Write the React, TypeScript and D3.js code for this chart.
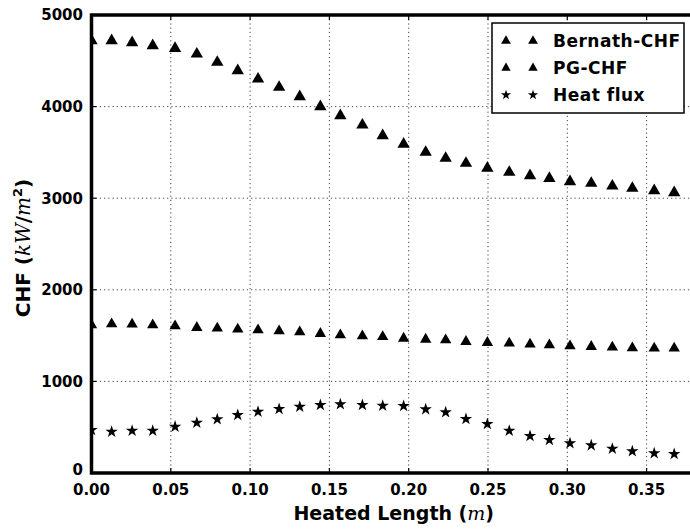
import React from "react";
import * as d3 from "d3";

const heatedLength = [0.0, 0.0127, 0.0256, 0.0386, 0.0527, 0.0664, 0.0793, 0.0922, 0.105, 0.1183, 0.1313, 0.1443, 0.1569, 0.1708, 0.1836, 0.1968, 0.2107, 0.2233, 0.2361, 0.2496, 0.2634, 0.2765, 0.2887, 0.3017, 0.3151, 0.3284, 0.3410, 0.3548, 0.3674];
const bernathCHF = [4720, 4720, 4698, 4665, 4636, 4574, 4484, 4392, 4301, 4211, 4108, 3999, 3901, 3799, 3683, 3589, 3501, 3436, 3381, 3327, 3283, 3246, 3217, 3181, 3163, 3133, 3108, 3082, 3060];
const pgCHF = [1616, 1627, 1623, 1616, 1605, 1587, 1580, 1569, 1561, 1550, 1539, 1521, 1507, 1496, 1488, 1470, 1459, 1452, 1434, 1423, 1416, 1405, 1397, 1386, 1379, 1372, 1365, 1361, 1361];
const heatFlux = [469, 451, 462, 462, 506, 549, 586, 633, 669, 699, 724, 742, 750, 742, 735, 731, 695, 663, 590, 535, 462, 404, 360, 324, 302, 265, 237, 215, 207];

const xTicks = [0.0, 0.05, 0.1, 0.15, 0.2, 0.25, 0.3, 0.35];
const yTicks = [0, 1000, 2000, 3000, 4000, 5000];
const seriesNames = ["Bernath-CHF", "PG-CHF", "Heat flux"];

const W = 690, H = 530;
const left = 91.5, top = 15, bottom = 473;
const xMax = 0.38;

export default function App() {
  const x = d3.scaleLinear().domain([0, xMax]).range([left, left + xMax * 1586]);
  const y = d3.scaleLinear().domain([0, 5000]).range([bottom, top]);
  const right = x(xMax);

  const tri = (s: number) => d3.symbol().type(d3.symbolTriangle).size(s)()!;
  const star = (s: number) => d3.symbol().type(d3.symbolStar).size(s)()!;
  const font = "'DejaVu Sans', sans-serif";
  const mathFont = "'DejaVu Serif', serif";

  const series = [
    { name: seriesNames[0], vals: bernathCHF, path: tri(66), lpath: tri(42) },
    { name: seriesNames[1], vals: pgCHF, path: tri(56), lpath: tri(38) },
    { name: seriesNames[2], vals: heatFlux, path: star(48), lpath: star(32) },
  ];

  return (
    <svg width={W} height={H} style={{ position: "absolute", left: 0, top: 0, background: "#fff" }} fontFamily={font}>
      <defs>
        <clipPath id="plotclip">
          <rect x={left} y={top} width={right - left} height={bottom - top} />
        </clipPath>
      </defs>
      <rect x={0} y={0} width={W} height={H} fill="#fff" />
      {/* grid */}
      <g stroke="#000" strokeWidth={1} strokeDasharray="1.2,3" opacity={0.75}>
        {xTicks.slice(1).map((t) => (
          <line key={"gx" + t} x1={x(t)} x2={x(t)} y1={top} y2={bottom} />
        ))}
        {yTicks.slice(1, -1).map((t) => (
          <line key={"gy" + t} x1={left} x2={right} y1={y(t)} y2={y(t)} />
        ))}
      </g>
      {/* data */}
      <g clipPath="url(#plotclip)">
        {series.map((s) =>
          s.vals.map((v, i) => (
            <path key={s.name + i} d={s.path} transform={`translate(${x(heatedLength[i])},${y(v)})`} fill="#000" />
          ))
        )}
      </g>
      {/* ticks */}
      <g stroke="#000" strokeWidth={1.2}>
        {xTicks.map((t) => (
          <g key={"tx" + t}>
            <line x1={x(t)} x2={x(t)} y1={bottom} y2={bottom - 5} />
            <line x1={x(t)} x2={x(t)} y1={top} y2={top + 5} />
          </g>
        ))}
        {yTicks.map((t) => (
          <line key={"ty" + t} x1={left} x2={left + 5} y1={y(t)} y2={y(t)} />
        ))}
      </g>
      {/* spines */}
      <rect x={left} y={top} width={right - left} height={bottom - top} fill="none" stroke="#000" strokeWidth={3.5} />
      {/* tick labels */}
      <g fontSize={15} fontWeight="bold" fill="#000">
        {xTicks.map((t) => (
          <text key={"lx" + t} x={x(t)} y={495} textAnchor="middle">
            {d3.format(".2f")(t)}
          </text>
        ))}
        {yTicks.map((t) => (
          <text key={"ly" + t} x={83} y={y(t) - (t === 0 ? 3 : 0)} dy="0.36em" textAnchor="end">
            {t}
          </text>
        ))}
      </g>
      {/* axis labels */}
      <text x={(left + 690) / 2 + 3} y={520} textAnchor="middle" fontSize={19} fontWeight="bold">
        Heated Length (<tspan fontStyle="italic" fontFamily={mathFont} fontWeight="normal">m</tspan>)
      </text>
      <text transform={`translate(30,248) rotate(-90)`} textAnchor="middle" fontSize={20} fontWeight="bold">
        CHF (<tspan fontStyle="italic" fontFamily={mathFont} fontWeight="normal">kW</tspan>/<tspan fontStyle="italic" fontFamily={mathFont} fontWeight="normal">m</tspan><tspan fontSize={13} dy={-8}>2</tspan><tspan dy={8}>)</tspan>
      </text>
      {/* legend */}
      <g>
        <rect x={492} y={23} width={192} height={90} fill="#fff" stroke="#000" strokeWidth={1.5} />
        {series.map((s, i) => {
          const ly = 41 + i * 27;
          return (
            <g key={"lg" + i}>
              <path d={s.lpath} transform={`translate(506,${ly})`} fill="#000" />
              <path d={s.lpath} transform={`translate(533,${ly})`} fill="#000" />
              <text x={553} y={ly} dy="0.36em" fontSize={17} fontWeight="bold" letterSpacing={0.5}>
                {s.name}
              </text>
            </g>
          );
        })}
      </g>
    </svg>
  );
}
